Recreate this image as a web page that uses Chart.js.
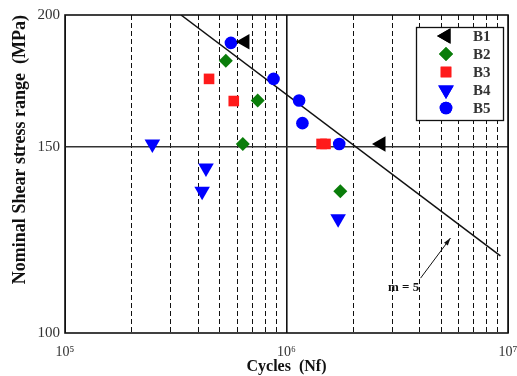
<!DOCTYPE html>
<html>
<head>
<meta charset="utf-8">
<script src="https://cdn.jsdelivr.net/npm/chart.js@4.4.0/dist/chart.umd.min.js"></script>
<style>
html, body { margin: 0; padding: 0; background: #fff; }
#wrap { width: 517px; height: 376px; }
</style>
</head>
<body>
<div id="wrap"><canvas id="myChart"></canvas></div>
<script>
// test data (cycles, MPa)
var b1X = [6.49e5, 2.67e6];
var b1Y = [188.7, 151];
var b2X = [5.32e5, 7.41e5, 6.35e5, 1.75e6];
var b2Y = [181, 166, 151, 136.2];
var b3X = [4.47e5, 5.78e5, 1.44e6, 1.50e6];
var b3Y = [174, 165.8, 151, 151];
var b4X = [2.48e5, 4.33e5, 4.16e5, 1.71e6];
var b4Y = [151, 143.3, 136.2, 128.3];
var b5X = [5.61e5, 8.74e5, 1.14e6, 1.18e6, 1.73e6];
var b5Y = [188.2, 174, 166, 158, 151];

// design line (m = 5) and the arrow pointing at it
var lineX = [3.34e5, 9.24e6];
var lineY = [200, 118.3];
var arrowX = [4.03e6, 5.5e6];
var arrowY = [112.7, 123.0];

var xTicks = [1e5, 2e5, 3e5, 4e5, 5e5, 6e5, 7e5, 8e5, 9e5,
              1e6, 2e6, 3e6, 4e6, 5e6, 6e6, 7e6, 8e6, 9e6, 1e7];
var xLabels = { 100000: '10\u2075', 1000000: '10\u2076', 10000000: '10\u2077' };
var yTicks = [100, 150, 200];

function pts(xs, ys) {
    return xs.map(function (x, i) { return { x: x, y: ys[i] }; });
}

var serif = '"Liberation Serif", "Times New Roman", serif';

var extras = {
    id: 'extras',
    afterDatasetsDraw: function (chart) {
        var ctx = chart.ctx, a = chart.chartArea;
        var xs = chart.scales.x, ys = chart.scales.y;
        ctx.save();
        // arrow head
        var x0 = xs.getPixelForValue(arrowX[0]), y0 = ys.getPixelForValue(arrowY[0]);
        var x1 = xs.getPixelForValue(arrowX[1]), y1 = ys.getPixelForValue(arrowY[1]);
        var ang = Math.atan2(y1 - y0, x1 - x0);
        ctx.fillStyle = '#111';
        ctx.beginPath();
        ctx.moveTo(x1, y1);
        ctx.lineTo(x1 - 8 * Math.cos(ang - 0.3), y1 - 8 * Math.sin(ang - 0.3));
        ctx.lineTo(x1 - 8 * Math.cos(ang + 0.3), y1 - 8 * Math.sin(ang + 0.3));
        ctx.closePath();
        ctx.fill();
        // m = 5 label
        ctx.font = 'bold 13px ' + serif;
        ctx.textAlign = 'center';
        ctx.textBaseline = 'middle';
        ctx.fillStyle = '#111';
        ctx.fillText('m = 5', xs.getPixelForValue(3.38e6), ys.getPixelForValue(110.3));

        // legend box
        var lx = 416, ly = 27, lw = 87, lh = 93;
        ctx.fillStyle = '#fff';
        ctx.fillRect(lx, ly, lw, lh);
        ctx.strokeStyle = '#111';
        ctx.lineWidth = 1.3;
        ctx.strokeRect(lx + 0.5, ly + 0.5, lw, lh);
        chart.data.datasets.forEach(function (ds, i) {
            if (!ds.legend) return;
            var yy = 36 + i * 18;
            ctx.fillStyle = ds.backgroundColor;
            Chart.helpers.drawPoint(ctx, {
                pointStyle: ds.pointStyle,
                rotation: ds.rotation || 0,
                radius: ds.pointRadius,
                borderWidth: 0
            }, 446, yy);
            ctx.fill();
            ctx.fillStyle = '#333';
            ctx.font = 'bold 15px ' + serif;
            ctx.textAlign = 'left';
            ctx.fillText(ds.label, 473, yy + 1);
        });

        // frame
        ctx.strokeStyle = '#111';
        ctx.lineWidth = 1.6;
        ctx.strokeRect(a.left, a.top, a.right - a.left, a.bottom - a.top);
        ctx.restore();
    }
};

var chart = new Chart(document.getElementById('myChart'), {
    type: 'scatter',
    data: {
        datasets: [
            { label: 'B1', legend: true, data: pts(b1X, b1Y), pointStyle: 'triangle', rotation: -90, pointRadius: 9, backgroundColor: '#000000', borderWidth: 0 },
            { label: 'B2', legend: true, data: pts(b2X, b2Y), pointStyle: 'rectRot', pointRadius: 7, backgroundColor: '#0a7d0a', borderWidth: 0 },
            { label: 'B3', legend: true, data: pts(b3X, b3Y), pointStyle: 'rect', pointRadius: 7.5, backgroundColor: '#ff1a1a', borderWidth: 0 },
            { label: 'B4', legend: true, data: pts(b4X, b4Y), pointStyle: 'triangle', rotation: 180, pointRadius: 9, backgroundColor: '#0000ff', borderWidth: 0 },
            { label: 'B5', legend: true, data: pts(b5X, b5Y), pointStyle: 'circle', pointRadius: 6.3, backgroundColor: '#0000ff', borderWidth: 0 },
            { label: 'line', data: pts(lineX, lineY), showLine: true, pointRadius: 0, borderColor: '#111', borderWidth: 1.5 },
            { label: 'arrow', data: pts(arrowX, arrowY), showLine: true, pointRadius: 0, borderColor: '#111', borderWidth: 1 }
        ]
    },
    options: {
        responsive: true,
        maintainAspectRatio: false,
        animation: false,
        layout: { padding: { top: 15, right: 6, left: 0, bottom: 0 } },
        plugins: { legend: { display: false }, tooltip: { enabled: false } },
        scales: {
            x: {
                type: 'logarithmic',
                min: 1e5,
                max: 1e7,
                afterBuildTicks: function (s) { s.ticks = xTicks.map(function (v) { return { value: v }; }); },
                afterFit: function (s) { s.height = 43; s.paddingLeft = 0; s.paddingRight = 0; },
                ticks: {
                    autoSkip: false,
                    maxRotation: 0,
                    padding: 11,
                    color: '#333',
                    font: { family: serif, size: 14 },
                    callback: function (v) { return xLabels[v] || ''; }
                },
                grid: {
                    drawTicks: false,
                    color: '#111',
                    lineWidth: function (c) { return c.tick && c.tick.value === 1e6 ? 1.6 : 1; }
                },
                border: {
                    display: false,
                    dash: function (c) {
                        if (!c.tick) return [];
                        var v = c.tick.value;
                        return (v === 1e5 || v === 1e6 || v === 1e7) ? [] : [5, 3];
                    }
                },
                title: {
                    display: true,
                    text: 'Cycles  (Nf)',
                    color: '#111',
                    padding: { top: 0, bottom: 0 },
                    font: { family: serif, size: 16, weight: 'bold' }
                }
            },
            y: {
                type: 'logarithmic',
                min: 100,
                max: 200,
                afterBuildTicks: function (s) { s.ticks = yTicks.map(function (v) { return { value: v }; }); },
                afterFit: function (s) { s.width = 65; s.paddingTop = 0; s.paddingBottom = 0; },
                ticks: {
                    autoSkip: false,
                    padding: 5,
                    color: '#333',
                    font: { family: serif, size: 15 },
                    callback: function (v) { return String(v); }
                },
                grid: {
                    drawTicks: false,
                    color: function (c) { return c.tick && c.tick.value === 150 ? '#333' : 'rgba(0,0,0,0)'; },
                    lineWidth: 1.5
                },
                border: { display: false },
                title: {
                    display: true,
                    text: 'Nominal Shear stress range  (MPa)',
                    color: '#111',
                    align: 'end',
                    padding: { top: 10, bottom: 2 },
                    font: { family: serif, size: 18, weight: 'bold' }
                }
            }
        }
    },
    plugins: [extras]
});
</script>
</body>
</html>
